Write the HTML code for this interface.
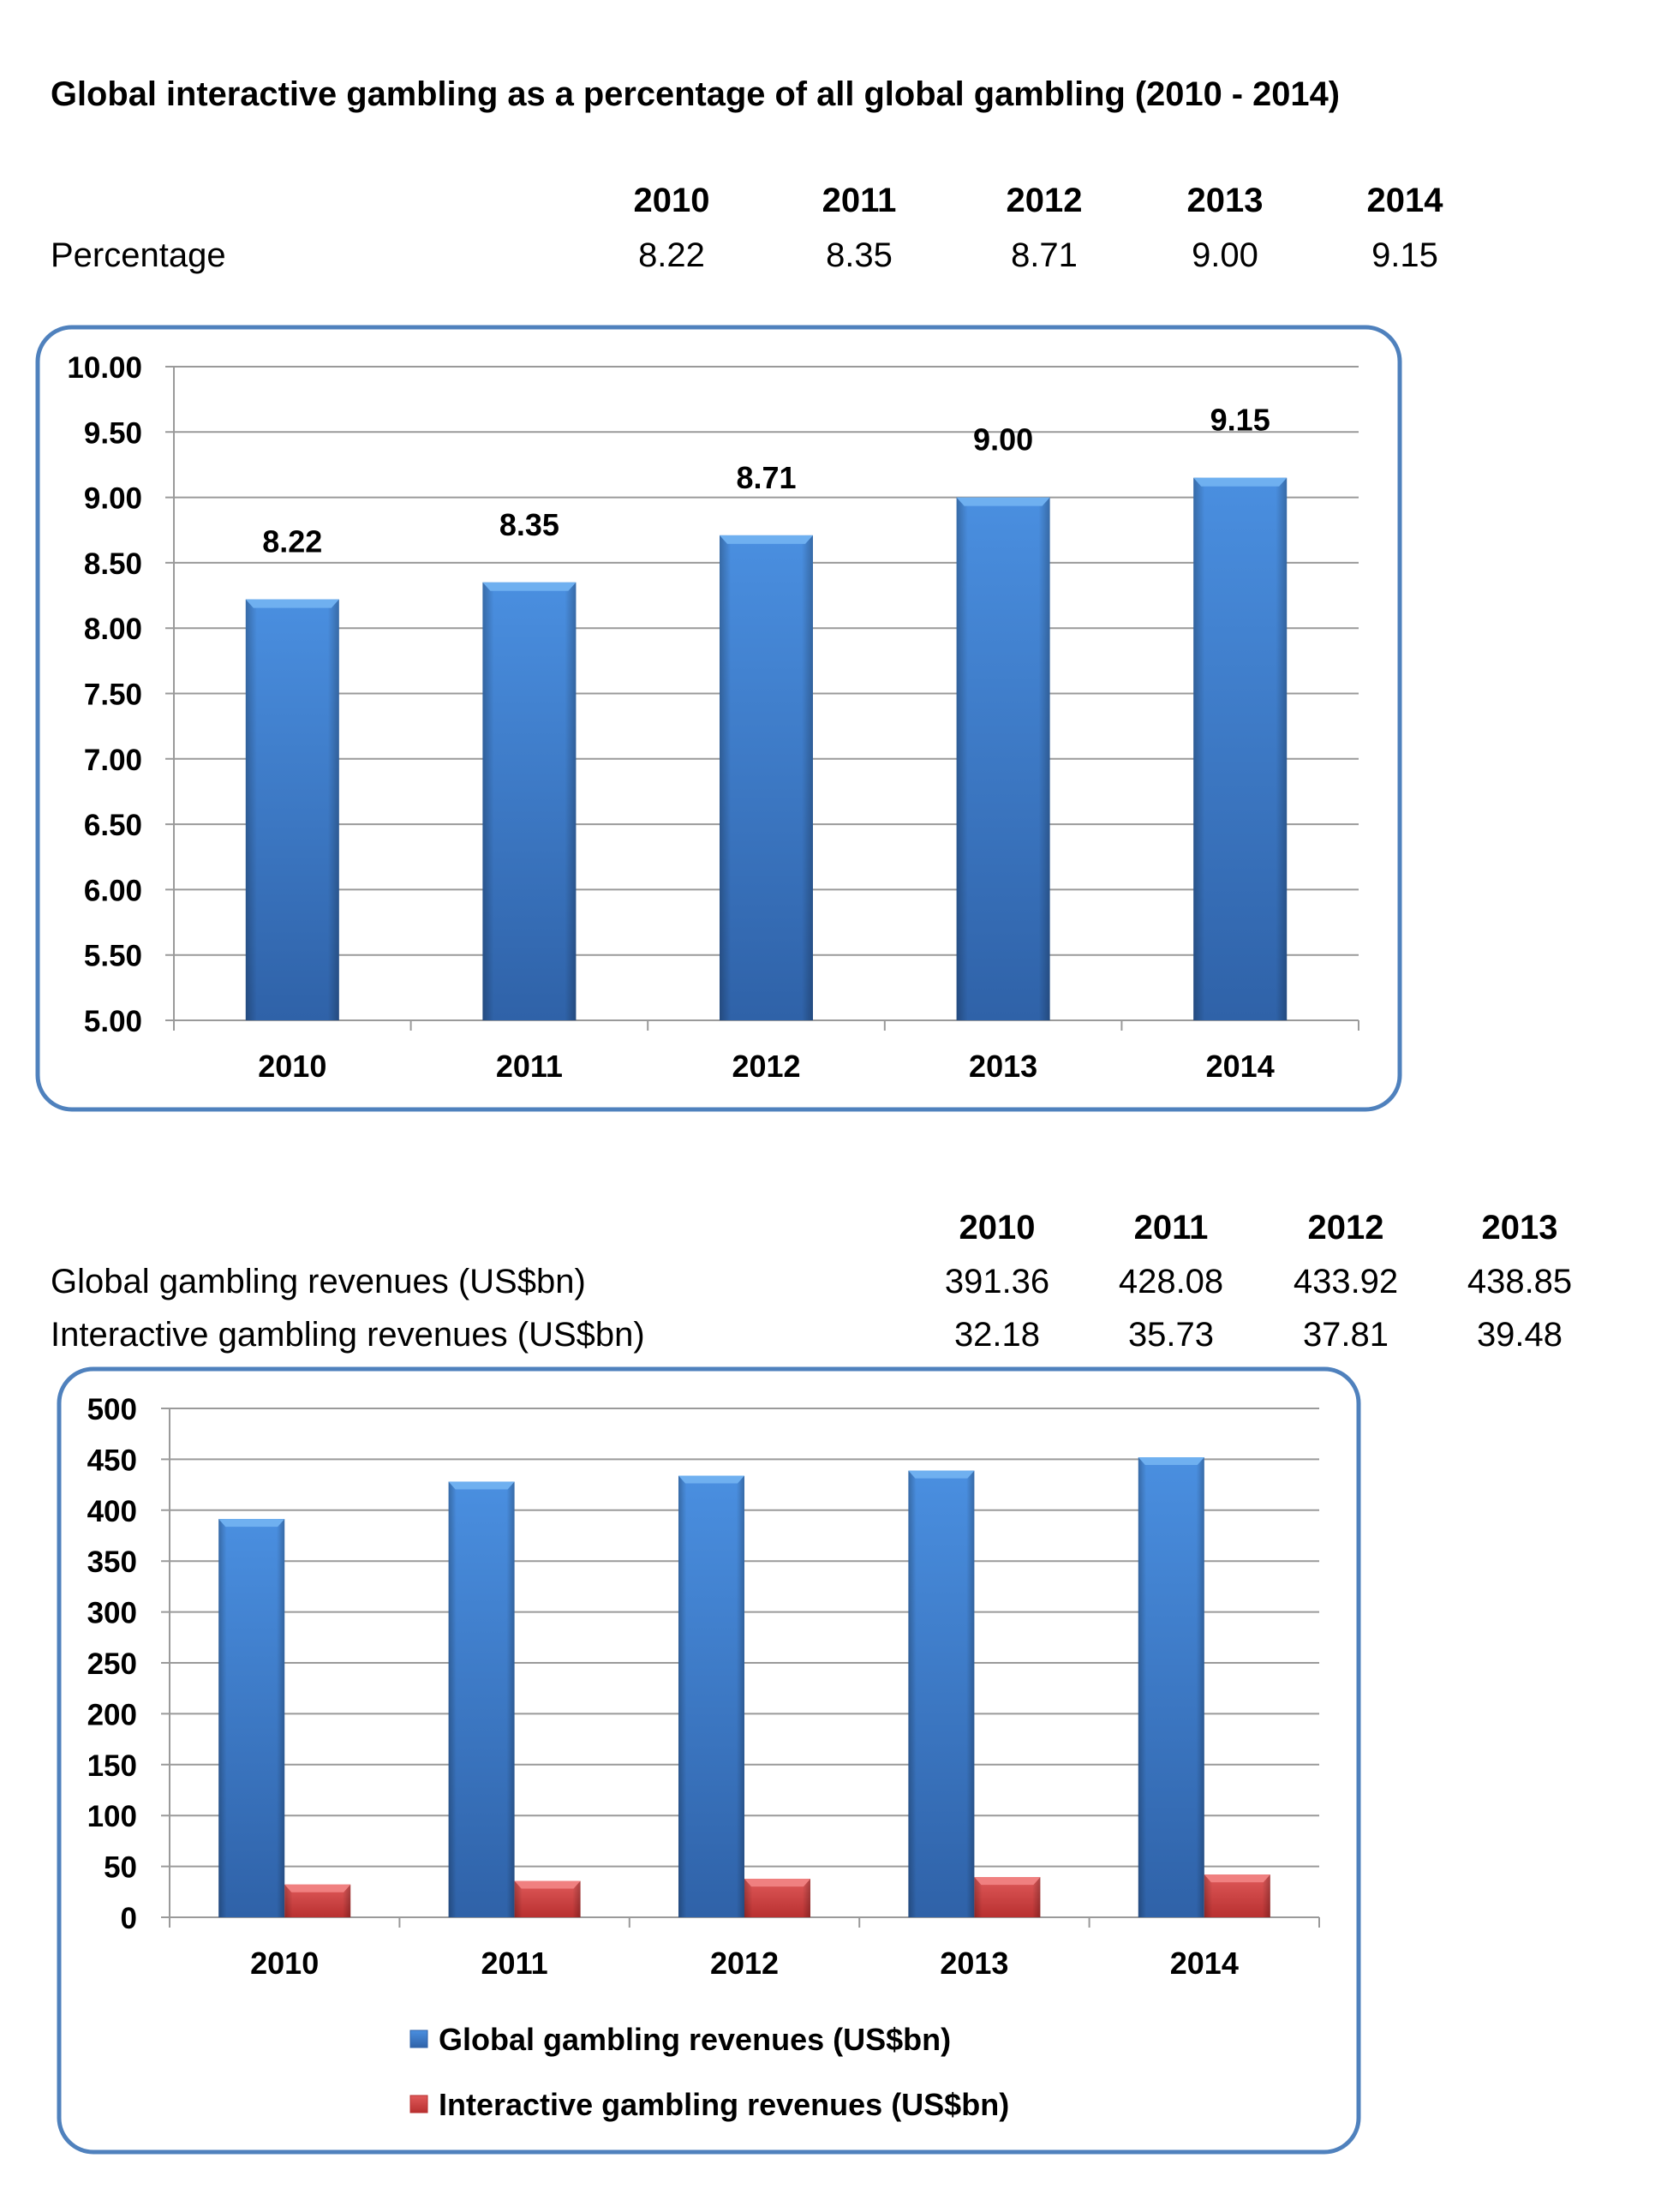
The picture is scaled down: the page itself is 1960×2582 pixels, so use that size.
<!DOCTYPE html>
<html><head><meta charset="utf-8"><style>
html,body{margin:0;padding:0;background:#fff;}
svg{display:block;font-family:"Liberation Sans",sans-serif;}
</style></head><body>
<svg id="s" width="1960" height="2582" viewBox="0 0 1960 2582" xmlns="http://www.w3.org/2000/svg">
<defs>
<linearGradient id="bv" x1="0" y1="0" x2="0" y2="1"><stop offset="0" stop-color="#4a8fe0"/><stop offset="1" stop-color="#2f62a8"/></linearGradient>
<linearGradient id="bh" x1="0" y1="0" x2="1" y2="0"><stop offset="0" stop-color="#000" stop-opacity="0.25"/><stop offset="0.12" stop-color="#000" stop-opacity="0"/><stop offset="0.88" stop-color="#000" stop-opacity="0"/><stop offset="1" stop-color="#000" stop-opacity="0.25"/></linearGradient>
<linearGradient id="rv" x1="0" y1="0" x2="0" y2="1"><stop offset="0" stop-color="#e05a5a"/><stop offset="1" stop-color="#b83030"/></linearGradient>
</defs>
<text x="59" y="123" font-size="40" font-weight="bold" textLength="1505" lengthAdjust="spacingAndGlyphs">Global interactive gambling as a percentage of all global gambling (2010 - 2014)</text>
<g id="t1"></g>
<rect x="44" y="382" width="1590" height="913" rx="40" fill="none" stroke="#4f81bd" stroke-width="5"/>
<g id="c1"></g>
<g id="t2"></g>
<rect x="69" y="1598" width="1517" height="914" rx="40" fill="none" stroke="#4f81bd" stroke-width="5"/>
<g id="c2"></g>
</svg>
<script>
const years = ["2010","2011","2012","2013","2014"];
const pctValues = [8.22, 8.35, 8.71, 9.00, 9.15];
const pctTicks = ["5.00","5.50","6.00","6.50","7.00","7.50","8.00","8.50","9.00","9.50","10.00"];
const tableYears2 = ["2010","2011","2012","2013"];
const globalTable = ["391.36","428.08","433.92","438.85"];
const interTable = ["32.18","35.73","37.81","39.48"];
const globalValues = [391.36, 428.08, 433.92, 438.85, 452];
const interValues = [32.18, 35.73, 37.81, 39.48, 42];
const revTicks = ["0","50","100","150","200","250","300","350","400","450","500"];

const NS="http://www.w3.org/2000/svg";
function mk(p,tag,at,txt){const e=document.createElementNS(NS,tag);for(const k in at)e.setAttribute(k,at[k]);if(txt!==undefined)e.textContent=txt;p.appendChild(e);return e;}

// table 1
const t1=document.getElementById('t1');
const t1x=[784,1003,1219,1430,1640];
let e=mk(t1,'text',{x:59,y:311,'font-size':40},"Percentage");


years.forEach((y,i)=>{
  let a=mk(t1,'text',{x:t1x[i],y:247,'font-size':40,'font-weight':'bold','text-anchor':'middle'},y);
  
  
  let b=mk(t1,'text',{x:t1x[i],y:311,'font-size':40,'text-anchor':'middle'},pctValues[i].toFixed(2));
  
  
});

// chart 1
const c1=document.getElementById('c1');
const L1=203,R1=1586,T1=428,B1=1191;
const y1=v=>B1-(v-5)/5*(B1-T1);
const cw1=(R1-L1)/5;
pctTicks.forEach(t=>{
  const yy=y1(parseFloat(t));
  let g=mk(c1,'line',{x1:L1-10,x2:R1,y1:yy,y2:yy,stroke:'#9a9a9a','stroke-width':2});
  
  
  let l=mk(c1,'text',{x:166,y:yy+13,'font-size':35,'font-weight':'bold','text-anchor':'end'},t);
  
  
});
mk(c1,'line',{x1:L1,x2:L1,y1:T1,y2:B1+12,stroke:'#9a9a9a','stroke-width':2});
for(let i=0;i<=5;i++)mk(c1,'line',{x1:L1+i*cw1,x2:L1+i*cw1,y1:B1,y2:B1+12,stroke:'#9a9a9a','stroke-width':2});
years.forEach((y,i)=>{
  const cx=L1+cw1*(i+0.5),bw=109,top=y1(pctValues[i]);
  let r=mk(c1,'rect',{x:cx-bw/2,y:top,width:bw,height:B1-top,fill:'url(#bv)'});
  
  
  mk(c1,'rect',{x:cx-bw/2,y:top,width:bw,height:B1-top,fill:'url(#bh)'});
  mk(c1,'polygon',{points:`${cx-bw/2},${top} ${cx+bw/2},${top} ${cx+bw/2-9},${top+10} ${cx-bw/2+9},${top+10}`,fill:'#6fb0f0'});
  let v=mk(c1,'text',{x:cx,y:top-55,'font-size':36,'font-weight':'bold','text-anchor':'middle'},pctValues[i].toFixed(2));
  
  
  let x=mk(c1,'text',{x:cx,y:1257,'font-size':36,'font-weight':'bold','text-anchor':'middle'},y);
  
  
});

// table 2
const t2=document.getElementById('t2');
const t2x=[1164,1367,1571,1774];
let r1=mk(t2,'text',{x:59,y:1509,'font-size':40},"Global gambling revenues (US$bn)");


let r2=mk(t2,'text',{x:59,y:1571,'font-size':40},"Interactive gambling revenues (US$bn)");


tableYears2.forEach((y,i)=>{
  let a=mk(t2,'text',{x:t2x[i],y:1446,'font-size':40,'font-weight':'bold','text-anchor':'middle'},y);
  
  
  let b=mk(t2,'text',{x:t2x[i],y:1509,'font-size':40,'text-anchor':'middle'},globalTable[i]);
  
  
  let c=mk(t2,'text',{x:t2x[i],y:1571,'font-size':40,'text-anchor':'middle'},interTable[i]);
  
  
});

// chart 2
const c2=document.getElementById('c2');
const L2=198,R2=1540,T2=1644,B2=2238;
const y2=v=>B2-v/500*(B2-T2);
const cw2=(R2-L2)/5;
revTicks.forEach(t=>{
  const yy=y2(parseFloat(t));
  let g=mk(c2,'line',{x1:L2-10,x2:R2,y1:yy,y2:yy,stroke:'#9a9a9a','stroke-width':2});
  
  
  let l=mk(c2,'text',{x:160,y:yy+13,'font-size':35,'font-weight':'bold','text-anchor':'end'},t);
  
  
});
mk(c2,'line',{x1:L2,x2:L2,y1:T2,y2:B2+12,stroke:'#9a9a9a','stroke-width':2});
for(let i=0;i<=5;i++)mk(c2,'line',{x1:L2+i*cw2,x2:L2+i*cw2,y1:B2,y2:B2+12,stroke:'#9a9a9a','stroke-width':2});
years.forEach((y,i)=>{
  const cx=L2+cw2*(i+0.5),bw=77;
  [[globalValues[i],'url(#bv)','#6fb0f0',cx-bw,'global-bar-'],[interValues[i],'url(#rv)','#f08080',cx,'interactive-bar-']].forEach(([v,f,hl,x0,nm])=>{
    const top=y2(v);
    let r=mk(c2,'rect',{x:x0,y:top,width:bw,height:B2-top,fill:f});
    
    
    mk(c2,'rect',{x:x0,y:top,width:bw,height:B2-top,fill:'url(#bh)'});
    mk(c2,'polygon',{points:`${x0},${top} ${x0+bw},${top} ${x0+bw-8},${top+9} ${x0+8},${top+9}`,fill:hl});
  });
  let x=mk(c2,'text',{x:cx,y:2304,'font-size':36,'font-weight':'bold','text-anchor':'middle'},y);
  
  
});
// legend
let lg1=mk(c2,'rect',{x:479,y:2370,width:20,height:20,fill:'url(#bv)',stroke:'#2f62a8'});


let lt1=mk(c2,'text',{x:512,y:2393,'font-size':36,'font-weight':'bold'},"Global gambling revenues (US$bn)");


let lg2=mk(c2,'rect',{x:479,y:2446,width:20,height:20,fill:'url(#rv)',stroke:'#b83030'});


let lt2=mk(c2,'text',{x:512,y:2469,'font-size':36,'font-weight':'bold'},"Interactive gambling revenues (US$bn)");


</script>
</body></html>
